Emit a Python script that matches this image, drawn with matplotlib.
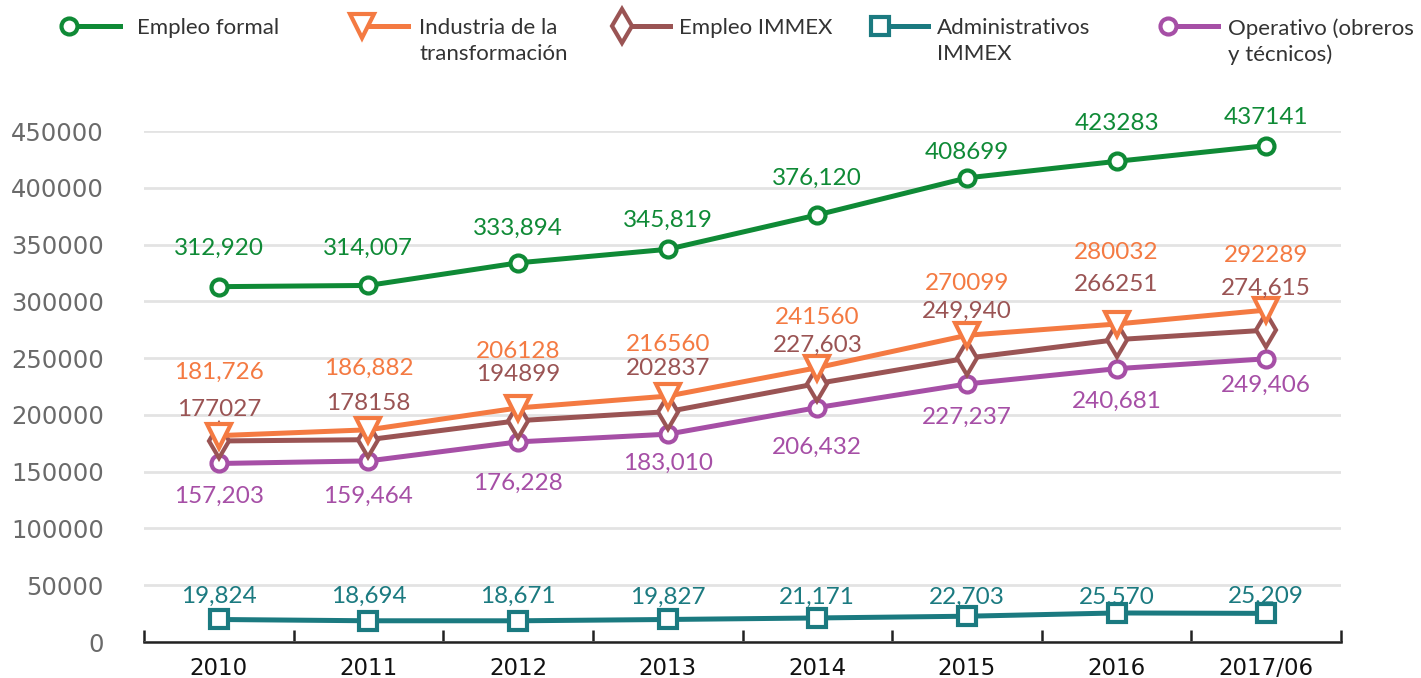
import matplotlib
matplotlib.use("Agg")
import matplotlib.pyplot as plt
from matplotlib.lines import Line2D

plt.rcParams['font.family'] = ['Lato', 'DejaVu Sans']

categories = ["2010", "2011", "2012", "2013", "2014", "2015", "2016", "2017/06"]
empleo_formal = [312920, 314007, 333894, 345819, 376120, 408699, 423283, 437141]
industria = [181726, 186882, 206128, 216560, 241560, 270099, 280032, 292289]
empleo_immex = [177027, 178158, 194899, 202837, 227603, 249940, 266251, 274615]
administrativos = [19824, 18694, 18671, 19827, 21171, 22703, 25570, 25209]
operativo = [157203, 159464, 176228, 183010, 206432, 227237, 240681, 249406]

formal_labels = ["312,920", "314,007", "333,894", "345,819", "376,120", "408699", "423283", "437141"]
industria_labels = ["181,726", "186,882", "206128", "216560", "241560", "270099", "280032", "292289"]
immex_labels = ["177027", "178158", "194899", "202837", "227,603", "249,940", "266251", "274,615"]
admin_labels = ["19,824", "18,694", "18,671", "19,827", "21,171", "22,703", "25,570", "25,209"]
oper_labels = ["157,203", "159,464", "176,228", "183,010", "206,432", "227,237", "240,681", "249,406"]

# label offsets in pixels (style)
formal_off = [38, 37, 35, 29, 37, 25, 38, 28]
industria_off = [63, 61, 56, 52, 50, 52, 72, 55]
immex_off = [31, 36, 46, 43, 38, 47, 55, 42]
admin_off = [23, 24, 24, 22, 21, 19, 16, 17]
oper_off = [-33, -35, -41, -29, -40, -33, -33, -27]

C_GREEN = '#0f8a36'
C_ORANGE = '#f47a42'
C_BROWN = '#9a5454'
C_TEAL = '#1b7a80'
C_PURPLE = '#a64fa6'

W, H = 1421, 678
fig = plt.figure(figsize=(W / 100, H / 100), dpi=100)
ax = fig.add_axes([144 / W, 1 - 642 / H, (1341 - 144) / W, (642 - 131) / H])

x = list(range(len(categories)))
lw = 3.6
series = [
    (empleo_formal, C_GREEN, 'o', 11.5, formal_labels, formal_off),
    (administrativos, C_TEAL, 's', 12.5, admin_labels, admin_off),
    (operativo, C_PURPLE, 'o', 11.5, oper_labels, oper_off),
    (empleo_immex, C_BROWN, 'd', 17, immex_labels, immex_off),
    (industria, C_ORANGE, 'v', 17, industria_labels, industria_off),
]
for vals, col, mk, ms, labs, offs in series:
    ax.plot(x, vals, color=col, lw=lw, marker=mk, ms=ms, mfc='white',
            mec=col, mew=3.0, zorder=3)
    for xi, v, lab, off in zip(x, vals, labs, offs):
        ax.annotate(lab, (xi, v), xytext=(0, off), textcoords='offset pixels',
                    ha='center', va='center', color=col, fontsize=17.5, zorder=4)

ax.set_xlim(-0.5, 7.5)
ax.set_ylim(0, 450000)
ax.set_yticks(range(0, 450001, 50000))
ax.set_yticklabels([str(v) for v in range(0, 450001, 50000)],
                   family='DejaVu Sans', fontsize=17.5, color='#6a6a6a')
ax.grid(axis='y', color='#e3e3e3', lw=2, zorder=0)
ax.set_axisbelow(True)
for s in ['top', 'right', 'left']:
    ax.spines[s].set_visible(False)
ax.spines['bottom'].set_color('#222222')
ax.spines['bottom'].set_linewidth(1.8)
ax.tick_params(axis='y', length=0, pad=29)
ax.set_xticks(x)
ax.set_xticklabels(categories, family='DejaVu Sans', fontsize=16.5, color='#111111')
ax.tick_params(axis='x', which='major', length=0, pad=11)
ax.set_xticks([i - 0.5 for i in range(len(categories) + 1)], minor=True)
ax.tick_params(axis='x', which='minor', direction='in', length=9, width=1.8, color='#222222')

# manual legend
legend_items = [
    (69, 120, 137, C_GREEN, 'o', 11.5, "Empleo formal"),
    (362, 408, 419, C_ORANGE, 'v', 17, "Industria de la\ntransformación"),
    (622, 670, 679, C_BROWN, 'd', 17, "Empleo IMMEX"),
    (880, 928, 937, C_TEAL, 's', 12.5, "Administrativos\nIMMEX"),
    (1168, 1218, 1228, C_PURPLE, 'o', 11.5, "Operativo (obreros\ny técnicos)"),
]
ly = 26
for mx, lx_end, tx, col, mk, ms, txt in legend_items:
    fig.add_artist(Line2D([mx / W, lx_end / W], [1 - ly / H, 1 - ly / H], color=col,
                          lw=lw, transform=fig.transFigure))
    fig.add_artist(Line2D([mx / W], [1 - ly / H], color=col, marker=mk, ms=ms,
                          mfc='white', mec=col, mew=3.0, transform=fig.transFigure))
    fig.text(tx / W, 1 - 18 / H, txt, ha='left', va='top', fontsize=16,
             color='#333333', linespacing=1.38)

fig.savefig('out.png', dpi=100)
